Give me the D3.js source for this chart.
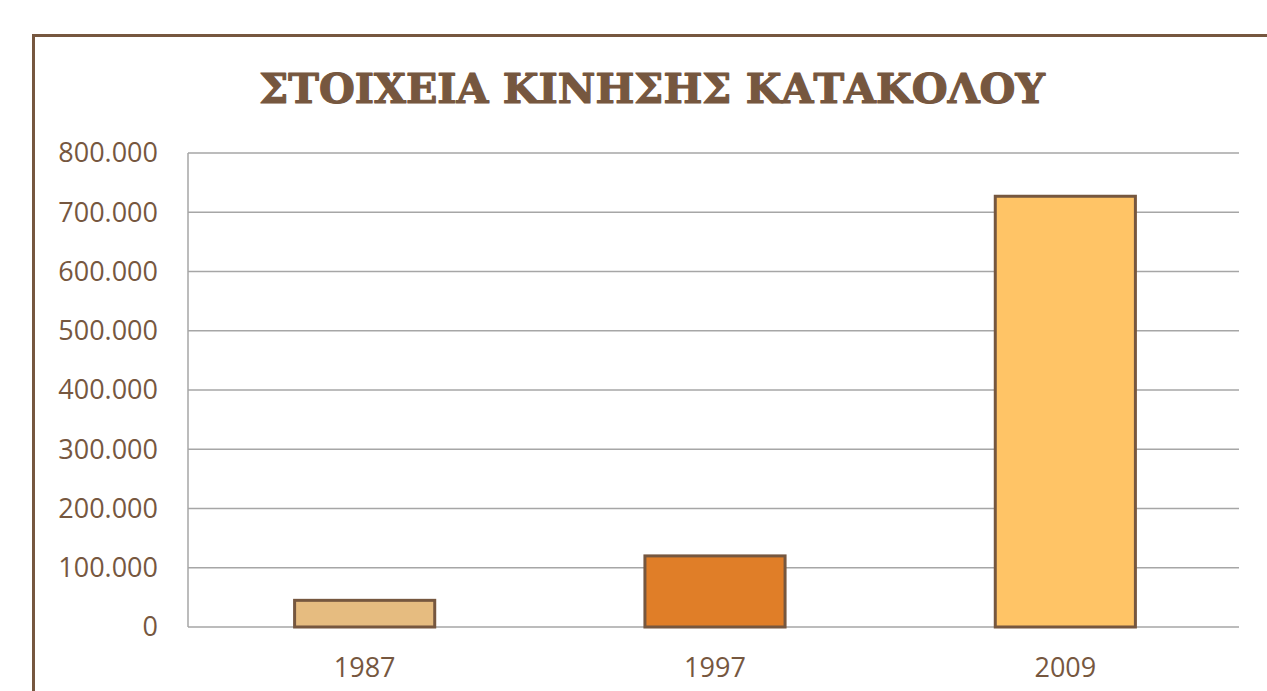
<!DOCTYPE html>
<html><head><meta charset="utf-8">
<script src="https://cdn.jsdelivr.net/npm/d3@7"></script>
<style>body{margin:0;background:#fff;} svg{display:block;}</style>
</head><body>
<svg id="c" width="1267" height="691"></svg>
<script>
const title = "ΣΤΟΙΧΕΙΑ ΚΙΝΗΣΗΣ ΚΑΤΑΚΟΛΟΥ";
const categories = ["1987", "1997", "2009"];
const values = [45000, 120000, 727000];
const barColors = ["#E6BC80", "#E07E28", "#FFC466"];
const yTicks = [0, 100000, 200000, 300000, 400000, 500000, 600000, 700000, 800000];

const brown = "#76573F";
const svg = d3.select("#c");

// outer frame
svg.append("rect").attr("x", 33.5).attr("y", 35.5).attr("width", 1300).attr("height", 700)
  .attr("fill", "none").attr("stroke", brown).attr("stroke-width", 3);

const L = 188, R = 1239, T = 153, B = 627;
const x = d3.scaleBand().domain(categories).range([L + 1.5, R + 1.5]).paddingInner(0.6).paddingOuter(0.3);
const y = d3.scaleLinear().domain([0, 800000]).range([B, T]);
const loc = d3.formatLocale({decimal: ",", thousands: ".", grouping: [3], currency: ["", "€"]});
const fmt = loc.format(",d");

// gridlines
svg.append("g").selectAll("line").data(yTicks).join("line")
  .attr("x1", L).attr("x2", R).attr("y1", d => y(d)).attr("y2", d => y(d))
  .attr("stroke", "#A6A6A6").attr("stroke-width", 1.5);
svg.append("line").attr("x1", L).attr("x2", L).attr("y1", T).attr("y2", B)
  .attr("stroke", "#A6A6A6").attr("stroke-width", 1.5);

// y labels
svg.append("g").selectAll("text").data(yTicks).join("text")
  .attr("x", 158).attr("y", d => y(d)).attr("dy", "0.35em")
  .attr("text-anchor", "end").attr("fill", brown)
  .style("font-family", "'Open Sans', sans-serif").style("font-size", "27px")
  .text(d => fmt(d));

// bars
svg.append("g").selectAll("rect").data(values).join("rect")
  .attr("x", (d, i) => x(categories[i])).attr("width", x.bandwidth())
  .attr("y", d => y(d)).attr("height", d => B - y(d))
  .attr("fill", (d, i) => barColors[i]).attr("stroke", brown).attr("stroke-width", 3);

// x labels
svg.append("g").selectAll("text").data(categories).join("text")
  .attr("x", d => x(d) + x.bandwidth() / 2).attr("y", 677)
  .attr("text-anchor", "middle").attr("fill", brown)
  .style("font-family", "'Open Sans', sans-serif").style("font-size", "27px")
  .text(d => d);

// title
const t = svg.append("text").attr("x", 652).attr("y", 103).attr("text-anchor", "middle")
  .attr("fill", brown).attr("stroke", brown).attr("stroke-width", 1.2).attr("stroke-linejoin", "round")
  .attr("font-family", "DejaVu Serif").attr("font-weight", "bold")
  .attr("font-size", 45)
  .text(title);
const w = t.node().getComputedTextLength();
if (w > 0) t.attr("font-size", 45 * 786 / w);
</script>
</body></html>
